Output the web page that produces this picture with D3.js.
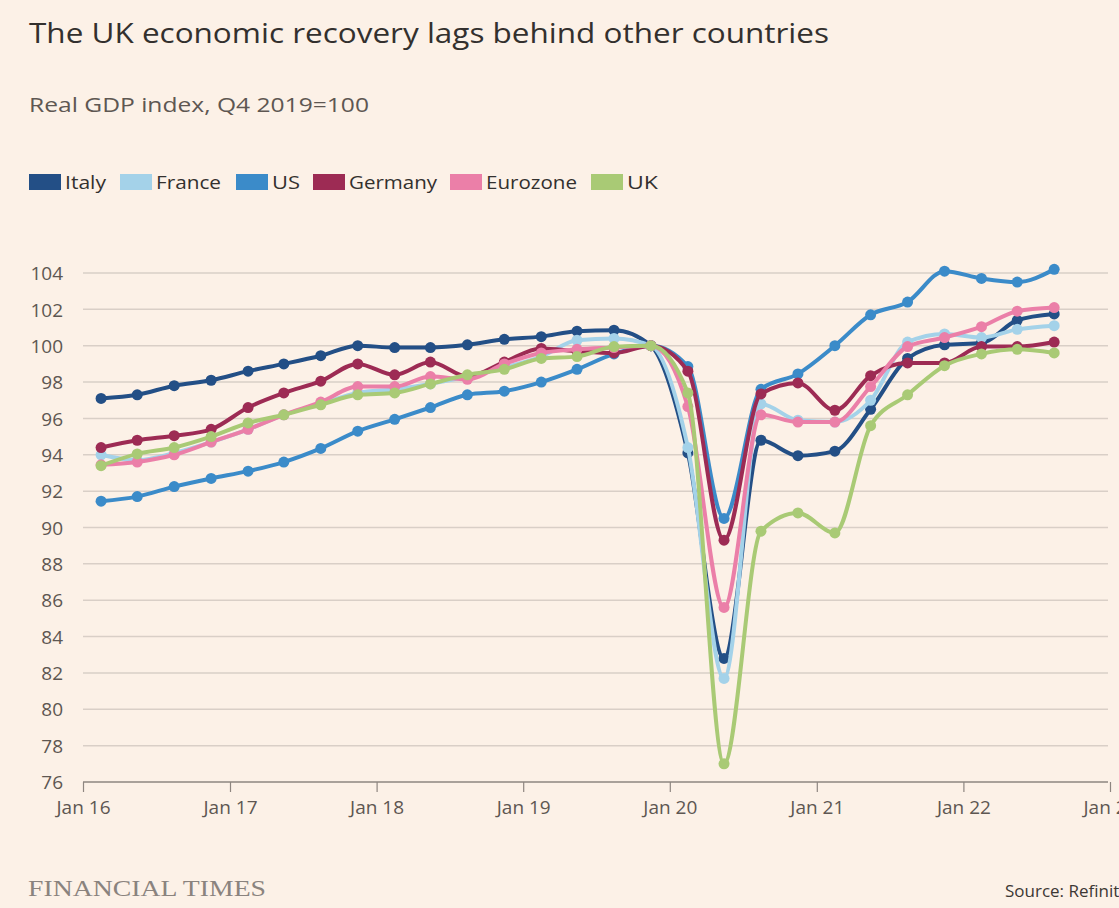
<!DOCTYPE html>
<html><head><meta charset="utf-8">
<script src="https://cdn.jsdelivr.net/npm/d3@7"></script>
<style>
html,body{margin:0;padding:0;background:#fcf1e7;overflow:hidden}
svg{display:block}
</style></head>
<body><svg id="chart" width="1119" height="908"></svg>
<script>
const quarters = ["2016Q1","2016Q2","2016Q3","2016Q4","2017Q1","2017Q2","2017Q3","2017Q4","2018Q1","2018Q2","2018Q3","2018Q4","2019Q1","2019Q2","2019Q3","2019Q4","2020Q1","2020Q2","2020Q3","2020Q4","2021Q1","2021Q2","2021Q3","2021Q4","2022Q1","2022Q2","2022Q3"];
const italy    = [97.1,97.3,97.8,98.1,98.6,99.0,99.45,100.0,99.9,99.9,100.05,100.35,100.5,100.8,100.85,100,94.1,82.8,94.8,93.95,94.2,96.5,99.3,100.05,100.15,101.4,101.75];
const france   = [94.0,93.7,94.1,94.7,95.4,96.2,96.8,97.4,97.6,97.9,98.3,98.8,99.4,100.3,100.4,100,94.4,81.7,96.8,95.9,95.8,97.0,100.2,100.65,100.45,100.9,101.1];
const us       = [91.45,91.7,92.25,92.7,93.1,93.6,94.35,95.3,95.95,96.6,97.3,97.5,98.0,98.7,99.55,100,98.85,90.5,97.6,98.45,100.0,101.7,102.4,104.1,103.7,103.5,104.2];
const germany  = [94.4,94.8,95.05,95.4,96.6,97.4,98.05,99.0,98.4,99.1,98.3,99.1,99.85,99.7,99.6,100,98.6,89.3,97.35,97.95,96.45,98.35,99.05,99.05,99.95,99.95,100.2];
const eurozone = [93.45,93.6,94.0,94.7,95.4,96.2,96.9,97.75,97.75,98.3,98.15,99.0,99.6,99.8,99.9,100,96.65,85.6,96.2,95.8,95.8,97.75,99.95,100.45,101.05,101.9,102.1];
const uk       = [93.4,94.05,94.4,95.0,95.75,96.2,96.75,97.3,97.4,97.9,98.4,98.7,99.3,99.4,99.95,100,97.4,77.0,89.8,90.8,89.7,95.6,97.3,98.9,99.55,99.8,99.6];
const seriesNames = ["Italy","France","US","Germany","Eurozone","UK"];
const seriesColors = ["#234f86","#a4d2e9","#3b8bc9","#9d2b54","#eb7fa8","#a9ca75"];
const yTicks = [76,78,80,82,84,86,88,90,92,94,96,98,100,102,104];
const xTickYears = [2016,2017,2018,2019,2020,2021,2022,2023];
const title = "The UK economic recovery lags behind other countries";
const subtitle = "Real GDP index, Q4 2019=100";

const allSeries = [italy,france,us,germany,eurozone,uk];
const svg = d3.select("#chart");
svg.append("rect").attr("width",1119).attr("height",908).attr("fill","#fcf1e7");

const qDate = q => { const y=+q.slice(0,4), n=+q.slice(5); return new Date(y,(n-1)*3+1,15); };
const x = d3.scaleTime().domain([new Date(2016,0,1), new Date(2023,0,1)]).range([83,1110]);
const y = d3.scaleLinear().domain([76,104]).range([782,273]);
const font = "'Open Sans', 'Noto Sans', sans-serif";

svg.append("text").attr("x",29).attr("y",43).text(title)
  .attr("font-family",font).attr("font-size",28).attr("fill","#33302e").attr("textLength",800).attr("lengthAdjust","spacingAndGlyphs");
svg.append("text").attr("x",29).attr("y",112).text(subtitle)
  .attr("font-family",font).attr("font-size",20).attr("fill","#5e5752").attr("textLength",340).attr("lengthAdjust","spacingAndGlyphs");

// legend
const legendX = [29,120,236,313,450,591];
const legendW = [41,65,28,88,91,31];
seriesNames.forEach((n,i)=>{
  const g = svg.append("g").attr("transform",`translate(${legendX[i]},174)`);
  g.append("rect").attr("width",32).attr("height",16).attr("fill",seriesColors[i]);
  g.append("text").attr("x",36).attr("y",15).text(n)
   .attr("font-family",font).attr("font-size",18).attr("fill","#33302e")
   .attr("textLength",legendW[i]).attr("lengthAdjust","spacingAndGlyphs");
});

// y axis labels + gridlines
const yAxis = d3.axisLeft(y).tickValues(yTicks).tickSize(0).tickPadding(0);
const gy = svg.append("g").attr("transform","translate(63,0)").call(yAxis);
gy.select(".domain").remove();
gy.selectAll("text").attr("font-family",font).attr("font-size",19).attr("fill","#5e5752").attr("dy","0.35em");
svg.append("g").selectAll("line").data(yTicks.filter(t=>t>76)).join("line")
  .attr("x1",83).attr("x2",1108).attr("y1",d=>y(d)).attr("y2",d=>y(d))
  .attr("stroke","#d9cfc7").attr("stroke-width",1.5);

const xAxis = d3.axisBottom(x).tickValues(xTickYears.map(yr=>new Date(yr,0,1)))
  .tickFormat(d=>"Jan "+String(d.getFullYear()).slice(2)).tickSize(10).tickPadding(9).tickSizeOuter(0);
const gx = svg.append("g").attr("transform",`translate(0,${y(76)})`).call(xAxis);
gx.select(".domain").attr("stroke","#8e8680").attr("stroke-width",1.5).attr("d","M83,0H1108");
gx.selectAll(".tick line").attr("stroke","#8e8680").attr("stroke-width",1.2);
gx.selectAll("text").attr("font-family",font).attr("font-size",19).attr("fill","#5e5752");

const line = d3.line().x((d,i)=>x(qDate(quarters[i]))).y(d=>y(d)).curve(d3.curveMonotoneX);
allSeries.forEach((s,k)=>{
  const g = svg.append("g");
  g.append("path").attr("d",line(s)).attr("fill","none").attr("stroke",seriesColors[k]).attr("stroke-width",4).attr("stroke-linejoin","round");
  g.selectAll("circle").data(s).join("circle")
    .attr("cx",(d,i)=>x(qDate(quarters[i]))).attr("cy",d=>y(d)).attr("r",5.5).attr("fill",seriesColors[k]);
});

svg.append("text").attr("x",28).attr("y",896).text("FINANCIAL TIMES")
  .attr("font-family","'Liberation Serif', 'DejaVu Serif', serif").attr("font-size",23).attr("fill","#8a837e").attr("textLength",238).attr("lengthAdjust","spacingAndGlyphs");
svg.append("text").attr("x",1005).attr("y",897).text("Source: Refinitiv")
  .attr("font-family",font).attr("font-size",17).attr("fill","#3d3834");
</script></body></html>
